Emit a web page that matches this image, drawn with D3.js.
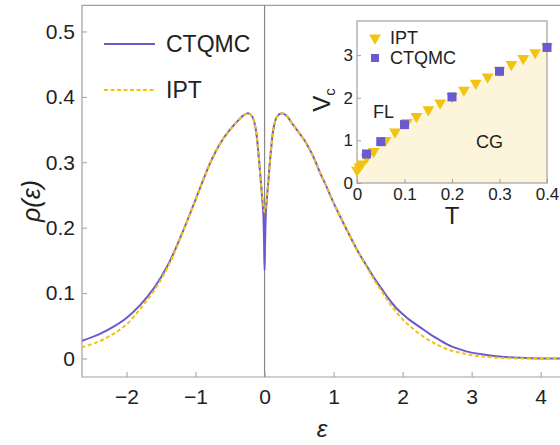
<!DOCTYPE html>
<html>
<head>
<meta charset="utf-8">
<script src="https://cdn.jsdelivr.net/npm/d3@7"></script>
<style>
    body { margin: 0; background: #fff; }
    svg { display: block; font-family: "Liberation Sans", Arial, sans-serif; }
</style>
</head>
<body>
<div id="dos"></div>
<script>
// main panel: spectral function rho(eps)
const epsCTQMC = [-2.65, -2.4, -2.2, -2.0, -1.8, -1.6, -1.4, -1.2, -1.0, -0.9, -0.8, -0.7, -0.6, -0.5, -0.4, -0.3, -0.24, -0.18, -0.13, -0.09, -0.05, -0.02, -0.008, 0,
    0.008, 0.02, 0.05, 0.09, 0.13, 0.18, 0.25, 0.32, 0.4, 0.5, 0.6, 0.7, 0.8, 0.9, 1.0, 1.1, 1.2, 1.3, 1.4, 1.5, 1.6, 1.7, 1.8, 1.9, 2.0, 2.1, 2.25, 2.4, 2.54, 2.7, 2.83, 3.0, 3.17, 3.4, 3.7, 4.0, 4.3];
const rhoCTQMC = [0.027, 0.037, 0.048, 0.062, 0.082, 0.108, 0.143, 0.19, 0.243, 0.27, 0.296, 0.318, 0.336, 0.35, 0.362, 0.372, 0.375, 0.37, 0.352, 0.315, 0.265, 0.225, 0.18, 0.135,
    0.18, 0.225, 0.265, 0.315, 0.352, 0.37, 0.375, 0.371, 0.359, 0.345, 0.33, 0.31, 0.285, 0.262, 0.238, 0.216, 0.195, 0.174, 0.155, 0.138, 0.121, 0.106, 0.091, 0.078, 0.068, 0.059, 0.048, 0.037, 0.028, 0.019, 0.014, 0.009, 0.006, 0.003, 0.001, 0.0, 0.0];

const epsIPT = [-2.65, -2.4, -2.2, -2.0, -1.8, -1.6, -1.4, -1.2, -1.0, -0.9, -0.8, -0.7, -0.6, -0.5, -0.4, -0.3, -0.24, -0.18, -0.13, -0.09, -0.05, -0.02, 0,
    0.02, 0.05, 0.09, 0.13, 0.18, 0.25, 0.32, 0.4, 0.5, 0.6, 0.7, 0.8, 0.9, 1.0, 1.1, 1.2, 1.3, 1.4, 1.5, 1.6, 1.7, 1.8, 1.9, 2.0, 2.1, 2.25, 2.4, 2.54, 2.7, 2.83, 3.0, 3.17, 3.4, 3.7, 4.0, 4.3];
const rhoIPT = [0.017, 0.026, 0.037, 0.052, 0.076, 0.104, 0.14, 0.189, 0.243, 0.27, 0.296, 0.318, 0.336, 0.35, 0.362, 0.372, 0.375, 0.37, 0.352, 0.315, 0.265, 0.236, 0.224,
    0.236, 0.265, 0.315, 0.352, 0.37, 0.375, 0.371, 0.359, 0.345, 0.33, 0.31, 0.285, 0.262, 0.238, 0.216, 0.195, 0.173, 0.154, 0.136, 0.118, 0.102, 0.086, 0.072, 0.06, 0.05, 0.037, 0.027, 0.019, 0.012, 0.009, 0.005, 0.003, 0.001, 0.0, 0.0, 0.0];

const xTicks = [-2, -1, 0, 1, 2, 3, 4];
const yTicks = [0, 0.1, 0.2, 0.3, 0.4, 0.5];

// inset: critical V_c vs T
const tIPT = [0, 0.005, 0.01, 0.02, 0.035, 0.06, 0.08, 0.105, 0.125, 0.15, 0.175, 0.2, 0.225, 0.25, 0.275, 0.3, 0.325, 0.35, 0.375, 0.4];
const vIPT = [0.3, 0.38, 0.45, 0.6, 0.74, 1.0, 1.2, 1.42, 1.56, 1.72, 1.88, 2.03, 2.18, 2.34, 2.49, 2.64, 2.78, 2.92, 3.06, 3.2];
const tCTQMC = [0.02, 0.05, 0.1, 0.2, 0.3, 0.4];
const vCTQMC = [0.68, 0.97, 1.37, 2.02, 2.62, 3.18];
const insetXTicks = [0, 0.1, 0.2, 0.3, 0.4];
const insetYTicks = [0, 1, 2, 3];

const purple = "#6a5acd",
    gold = "#f2c40f",
    axisGray = "#a0a0a0",
    textColor = "#222";

const width = 560,
    height = 445;

const svg = d3
    .select("#dos")
    .append("svg")
    .attr("width", width)
    .attr("height", height);

const x = d3.scaleLinear().domain([-2.645, 4.28]).range([82, 560]);
const y = d3.scaleLinear().domain([-0.0283, 0.54]).range([377, 5.3]);

// frame (right side runs off the picture)
svg.append("path")
    .attr("d", `M${x.range()[1] + 2},${y(0.54)}H${x(-2.645)}V${y(-0.0283)}H${x.range()[1] + 2}`)
    .attr("fill", "none")
    .attr("stroke", axisGray)
    .attr("stroke-width", 1.2);

// zero line
svg.append("line")
    .attr("x1", x(0)).attr("x2", x(0))
    .attr("y1", y(0.54)).attr("y2", y(-0.0283))
    .attr("stroke", "#888")
    .attr("stroke-width", 1.2);

svg.append("g")
    .attr("transform", `translate(0,${y(-0.0283)})`)
    .call(d3.axisBottom(x).tickValues(xTicks).tickSizeInner(-5).tickSizeOuter(0).tickPadding(12).tickFormat(d => d < 0 ? "\u2212" + Math.abs(d) : d))
    .call(g => g.select(".domain").remove())
    .call(g => g.selectAll("line").attr("stroke", axisGray))
    .call(g => g.selectAll("text").attr("fill", textColor).style("font-size", "21px").attr("font-family", null));

svg.append("g")
    .attr("transform", `translate(${x(-2.645)},0)`)
    .call(d3.axisLeft(y).tickValues(yTicks).tickSizeInner(-5).tickSizeOuter(0).tickPadding(7).tickFormat(d3.format("")))
    .call(g => g.select(".domain").remove())
    .call(g => g.selectAll("line").attr("stroke", axisGray))
    .call(g => g.selectAll("text").attr("fill", textColor).style("font-size", "21px").attr("font-family", null));

svg.append("clipPath").attr("id", "clip")
    .append("rect")
    .attr("x", 82).attr("y", 5)
    .attr("width", 480).attr("height", 372);

const line = d3.line()
    .x(d => x(d[0]))
    .y(d => y(d[1]))
    .curve(d3.curveCatmullRom.alpha(0.5));

svg.append("path")
    .attr("clip-path", "url(#clip)")
    .attr("d", line(d3.zip(epsCTQMC, rhoCTQMC)))
    .attr("fill", "none")
    .attr("stroke", purple)
    .attr("stroke-width", 2);

svg.append("path")
    .attr("clip-path", "url(#clip)")
    .attr("d", line(d3.zip(epsIPT, rhoIPT)))
    .attr("fill", "none")
    .attr("stroke", gold)
    .attr("stroke-width", 2)
    .attr("stroke-dasharray", "4,2.5");

// legend
const legend = [
    { name: "CTQMC", color: purple, dash: null, y: 44 },
    { name: "IPT", color: gold, dash: "4,2.5", y: 90 },
];
const lg = svg.append("g").selectAll("g").data(legend).join("g");
lg.append("line")
    .attr("x1", 104).attr("x2", 155)
    .attr("y1", d => d.y).attr("y2", d => d.y)
    .attr("stroke", d => d.color)
    .attr("stroke-width", 2)
    .attr("stroke-dasharray", d => d.dash);
lg.append("text")
    .attr("x", 166).attr("y", d => d.y)
    .attr("dy", "0.36em")
    .attr("fill", textColor)
    .style("font-size", "23px")
    .text(d => d.name);

// axis labels
svg.append("text")
    .attr("transform", `translate(40,201) rotate(-90)`)
    .attr("text-anchor", "middle")
    .attr("fill", textColor)
    .style("font-size", "25px")
    .style("font-style", "italic")
    .text("\u03c1(\u03b5)");

svg.append("text")
    .attr("x", 322).attr("y", 437)
    .attr("text-anchor", "middle")
    .attr("fill", textColor)
    .style("font-size", "24px")
    .style("font-style", "italic")
    .text("\u03b5");

// ---- inset ----
const ix = d3.scaleLinear().domain([0, 0.4]).range([357, 547]);
const iy = d3.scaleLinear().domain([0, 3.8]).range([183, 21]);
const inset = svg.append("g");

inset.append("rect")
    .attr("x", ix(0)).attr("y", iy(3.8))
    .attr("width", ix(0.4) - ix(0)).attr("height", iy(0) - iy(3.8))
    .attr("fill", "#fff");

inset.append("path")
    .attr("d", d3.area().x(d => ix(d[0])).y0(iy(0)).y1(d => iy(d[1]))(d3.zip(tIPT, vIPT)))
    .attr("fill", "#fcf4db");

inset.append("rect")
    .attr("x", ix(0)).attr("y", iy(3.8))
    .attr("width", ix(0.4) - ix(0)).attr("height", iy(0) - iy(3.8))
    .attr("fill", "none")
    .attr("stroke", axisGray)
    .attr("stroke-width", 1.2);

inset.append("g")
    .attr("transform", `translate(0,${iy(0)})`)
    .call(d3.axisBottom(ix).tickValues(insetXTicks).tickSizeInner(-4).tickSizeOuter(0).tickPadding(5).tickFormat(d3.format("")))
    .call(g => g.select(".domain").remove())
    .call(g => g.selectAll("line").attr("stroke", axisGray))
    .call(g => g.selectAll("text").attr("fill", textColor).style("font-size", "17px").attr("font-family", null));

inset.append("g")
    .attr("transform", `translate(${ix(0)},0)`)
    .call(d3.axisLeft(iy).tickValues(insetYTicks).tickSizeInner(-4).tickSizeOuter(0).tickPadding(4).tickFormat(d3.format("")))
    .call(g => g.select(".domain").remove())
    .call(g => g.selectAll("line").attr("stroke", axisGray))
    .call(g => g.selectAll("text").attr("fill", textColor).style("font-size", "17px").attr("font-family", null));

const tri = d3.symbol().type(d3.symbolTriangle).size(60);
inset.append("g")
    .selectAll("path")
    .data(d3.zip(tIPT, vIPT))
    .join("path")
    .attr("d", tri)
    .attr("transform", d => `translate(${ix(d[0])},${iy(d[1])}) rotate(180)`)
    .attr("fill", gold);

inset.append("g")
    .selectAll("rect")
    .data(d3.zip(tCTQMC, vCTQMC))
    .join("rect")
    .attr("x", d => ix(d[0]) - 4.5)
    .attr("y", d => iy(d[1]) - 4.5)
    .attr("width", 9).attr("height", 9)
    .attr("fill", purple);

// inset legend
inset.append("path")
    .attr("d", tri)
    .attr("transform", "translate(375,38) rotate(180)")
    .attr("fill", gold);
inset.append("rect")
    .attr("x", 371).attr("y", 54).attr("width", 8).attr("height", 8)
    .attr("fill", purple);
inset.append("text")
    .attr("x", 390).attr("y", 38).attr("dy", "0.36em")
    .attr("fill", textColor).style("font-size", "18px")
    .text("IPT");
inset.append("text")
    .attr("x", 390).attr("y", 58).attr("dy", "0.36em")
    .attr("fill", textColor).style("font-size", "18px")
    .text("CTQMC");

inset.append("text")
    .attr("x", 373).attr("y", 112).attr("dy", "0.36em")
    .attr("fill", textColor).style("font-size", "18px")
    .text("FL");
inset.append("text")
    .attr("x", 476).attr("y", 142).attr("dy", "0.36em")
    .attr("fill", textColor).style("font-size", "18px")
    .text("CG");

inset.append("text")
    .attr("x", 452).attr("y", 224)
    .attr("text-anchor", "middle")
    .attr("fill", textColor).style("font-size", "24px")
    .text("T");

const vlab = inset.append("text")
    .attr("transform", "translate(330,100) rotate(-90)")
    .attr("text-anchor", "middle")
    .attr("fill", textColor).style("font-size", "24px");
vlab.append("tspan").text("V");
vlab.append("tspan").attr("dy", 5).style("font-size", "15px").text("c");
</script>
</body>
</html>
